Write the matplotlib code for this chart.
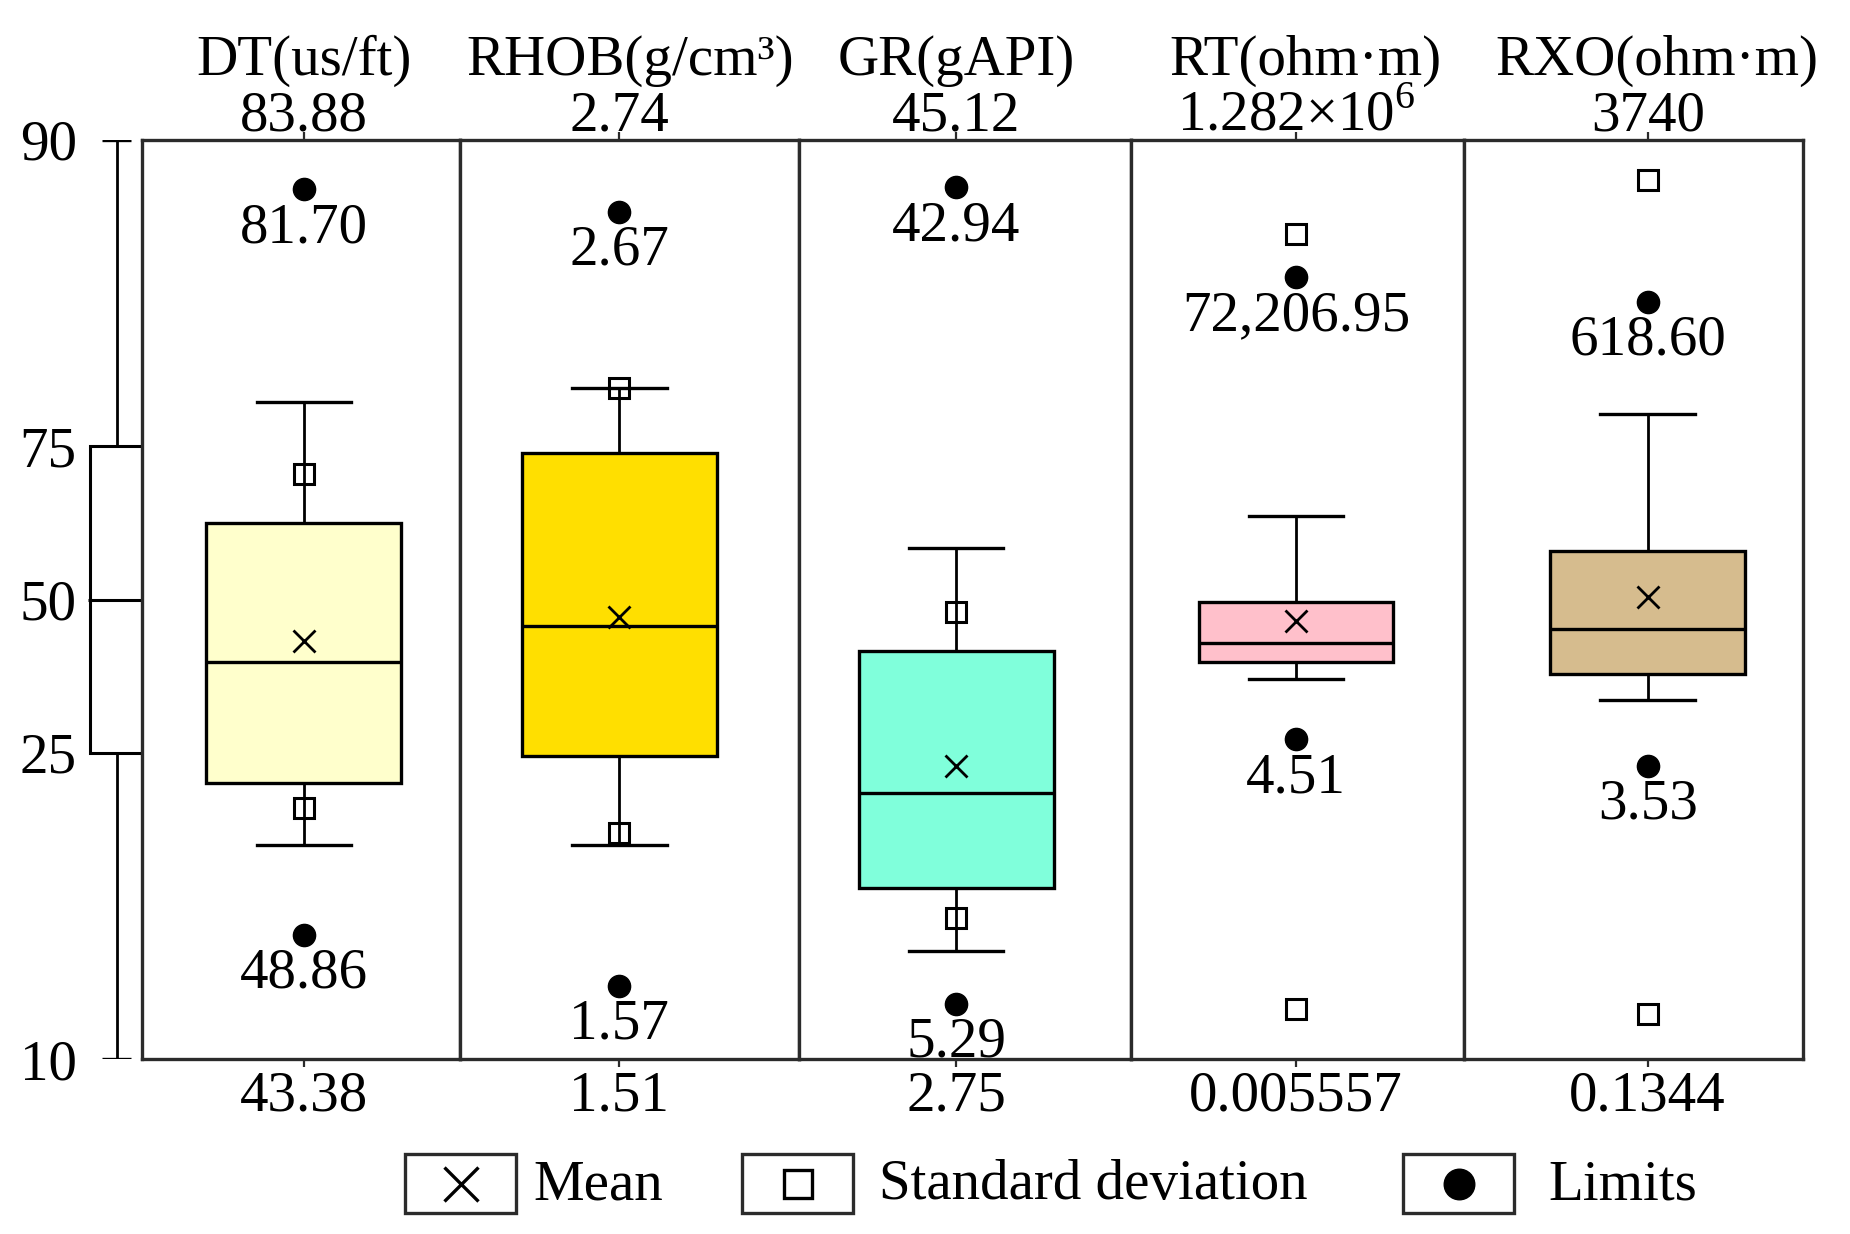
import numpy as np
import matplotlib.pyplot as plt
from matplotlib.patches import Rectangle

plt.rcParams['font.family'] = 'Liberation Serif'
plt.rcParams['mathtext.fontset'] = 'custom'
plt.rcParams['mathtext.rm'] = 'Liberation Serif'
plt.rcParams['font.size'] = 41

# Log curves shown in the chart
names = ['DT(us/ft)', 'RHOB(g/cm³)', 'GR(gAPI)', 'RT(ohm·m)', 'RXO(ohm·m)']
axis_min = [43.38, 1.51, 2.75, 0.005557, 0.1344]
axis_max = [83.88, 2.74, 45.12, 1.282e6, 3740]
min_labels = ['43.38', '1.51', '2.75', '0.005557', '0.1344']
max_labels = ['83.88', '2.74', '45.12', r'1.282$\times$10$^{\mathrm{6}}$', '3740']
log_scale = [False, False, False, True, True]

# Box statistics
q1 = [55.56, 1.915, 10.65, 22.8, 9.79]
median = [60.87, 2.089, 15.00, 33.7, 16.1]
q3 = [67.01, 2.321, 21.54, 80.3, 38.5]
mean = [61.81, 2.101, 16.26, 54.0, 23.0]
whis_lo = [52.80, 1.796, 7.71, 16.1, 7.33]
whis_hi = [72.32, 2.408, 26.33, 490.0, 176.8]
std_lo = [54.42, 1.812, 9.23, 0.0157, 0.2215]
std_hi = [69.15, 2.408, 23.34, 177000.0, 2393.0]
lim_lo = [48.86, 1.608, 5.29, 4.51, 3.53]
lim_hi = [81.70, 2.644, 42.94, 72206.95, 618.60]
lim_lo_labels = ['48.86', '1.57', '5.29', '4.51', '3.53']
lim_hi_labels = ['81.70', '2.67', '42.94', '72,206.95', '618.60']
colors = ['#FFFFCC', '#FFDF00', '#80FFDB', '#FFC0CB', '#D6BC8E']

# Percentile key on the left
pct_ticks = [10, 25, 50, 75, 90]

# Layout (pixels of the 1850x1234 figure)
W, H = 1850, 1234
panel_w = [270, 287, 282, 282, 287]
box_pos = [137.5, 135, 133.5, 139.5, 155.5]
name_shift = [0, 9, 0, 8, 8]
left_px, right_px, top_px, bot_px = 141.6, 1802.8, 140, 1059
frame_color = '#2b2b2b'


def px_axes(fig, x0, x1, y0, y1):
    return fig.add_axes([x0 / W, 1 - y1 / H, (x1 - x0) / W, (y1 - y0) / H])


def pct_fwd(p):
    return np.interp(p, [10, 25, 75, 90], [0, 1, 2, 3])


def pct_inv(v):
    return np.interp(v, [0, 1, 2, 3], [10, 25, 75, 90])


fig = plt.figure(figsize=(18.5, 12.34), dpi=100)

# Panels
scale = (right_px - left_px) / sum(panel_w)
x0 = left_px
for i in range(len(names)):
    x1 = x0 + panel_w[i] * scale
    ax = px_axes(fig, x0, x1, top_px, bot_px)
    x0 = x1

    if log_scale[i]:
        ax.set_yscale('log')
    ax.set_ylim(axis_min[i], axis_max[i])
    ax.set_xlim(0, panel_w[i])

    stats = [dict(med=median[i], q1=q1[i], q3=q3[i], whislo=whis_lo[i],
                  whishi=whis_hi[i], mean=mean[i], fliers=[])]
    ax.bxp(stats, positions=[box_pos[i]], widths=165, capwidths=80,
           patch_artist=True, showmeans=True, manage_ticks=False,
           boxprops=dict(facecolor=colors[i], edgecolor='black', linewidth=2.4),
           medianprops=dict(color='black', linewidth=2.4),
           whiskerprops=dict(color='black', linewidth=2),
           capprops=dict(color='black', linewidth=2.4),
           meanprops=dict(marker='x', markeredgecolor='black',
                          markersize=16, markeredgewidth=2))

    # std and limits
    ax.plot([box_pos[i]] * 2, [std_lo[i], std_hi[i]], 's', mfc='none',
            mec='black', ms=14, mew=2.2, zorder=4)
    ax.plot([box_pos[i]] * 2, [lim_lo[i], lim_hi[i]], 'o', color='black',
            ms=16, zorder=4)
    for val, lab in zip([lim_lo[i], lim_hi[i]], [lim_lo_labels[i], lim_hi_labels[i]]):
        ax.annotate(lab, (box_pos[i], val), xytext=(0, -38),
                    textcoords='offset points', ha='center', va='baseline')

    # axis values and names
    ax.annotate(max_labels[i], (box_pos[i], 1), xycoords=('data', 'axes fraction'),
                xytext=(0, 7), textcoords='offset points', ha='center', va='baseline')
    ax.annotate(names[i], (box_pos[i] + name_shift[i], 1),
                xycoords=('data', 'axes fraction'),
                xytext=(0, 47), textcoords='offset points', ha='center', va='baseline')
    ax.annotate(min_labels[i], (box_pos[i], 0), xycoords=('data', 'axes fraction'),
                xytext=(0, -37), textcoords='offset points', ha='center', va='baseline')

    ax.set_xticks([box_pos[i]])
    ax.set_xticklabels([])
    ax.set_yticks([])
    ax.minorticks_off()
    ax.tick_params(axis='x', top=True, bottom=True, direction='out',
                   length=6, width=1.6, color=frame_color)
    for sp in ax.spines.values():
        sp.set_color(frame_color)
        sp.set_linewidth(2.4)

# Percentile key
kax = px_axes(fig, 85, left_px, top_px, bot_px)
kax.set_yscale('function', functions=(pct_fwd, pct_inv))
kax.set_ylim(pct_ticks[0], pct_ticks[-1])
kax.set_xlim(0, 1)
kc = (116.5 - 85) / (left_px - 85)
kax.bar(kc, pct_ticks[3] - pct_ticks[1], bottom=pct_ticks[1], width=0.95,
        facecolor='white', edgecolor='black', linewidth=2.2)
kax.hlines(pct_ticks[2], kc - 0.5, 1, color='black', linewidth=2.2)
kax.vlines(kc, pct_ticks[0], pct_ticks[1], color='black', linewidth=2)
kax.vlines(kc, pct_ticks[3], pct_ticks[4], color='black', linewidth=2)
kax.hlines([pct_ticks[0], pct_ticks[4]], kc - 0.25, kc + 0.25, color='black', linewidth=2.4)
kax.set_yticks(pct_ticks)
kax.set_yticklabels([str(p) for p in pct_ticks])
kax.tick_params(axis='y', length=0, pad=6)
kax.set_xticks([])
for sp in kax.spines.values():
    sp.set_visible(False)
kax.set_zorder(-1)

# Legend along the bottom
lax = fig.add_axes([0, 0, 1, 1], zorder=-2)
lax.set_xlim(0, W)
lax.set_ylim(H, 0)
lax.axis('off')
leg_boxes = [405, 742, 1403]
leg_text_x = [533, 879, 1548]
leg_text = ['Mean', 'Standard deviation', 'Limits']
leg_marker = [dict(marker='x', ms=24, mew=2.4, color='black'),
              dict(marker='s', ms=20, mew=2.4, mfc='none', mec='black'),
              dict(marker='o', ms=22, color='black')]
for bx, tx, txt, mk in zip(leg_boxes, leg_text_x, leg_text, leg_marker):
    lax.add_patch(Rectangle((bx, 1154), 111, 59, facecolor='white',
                            edgecolor=frame_color, linewidth=2.4))
    lax.plot(bx + 55.5, 1183.5, linestyle='none', **mk)
    lax.text(tx, 1185, txt, ha='left', va='center')

fig.savefig('out.png', dpi=100)
